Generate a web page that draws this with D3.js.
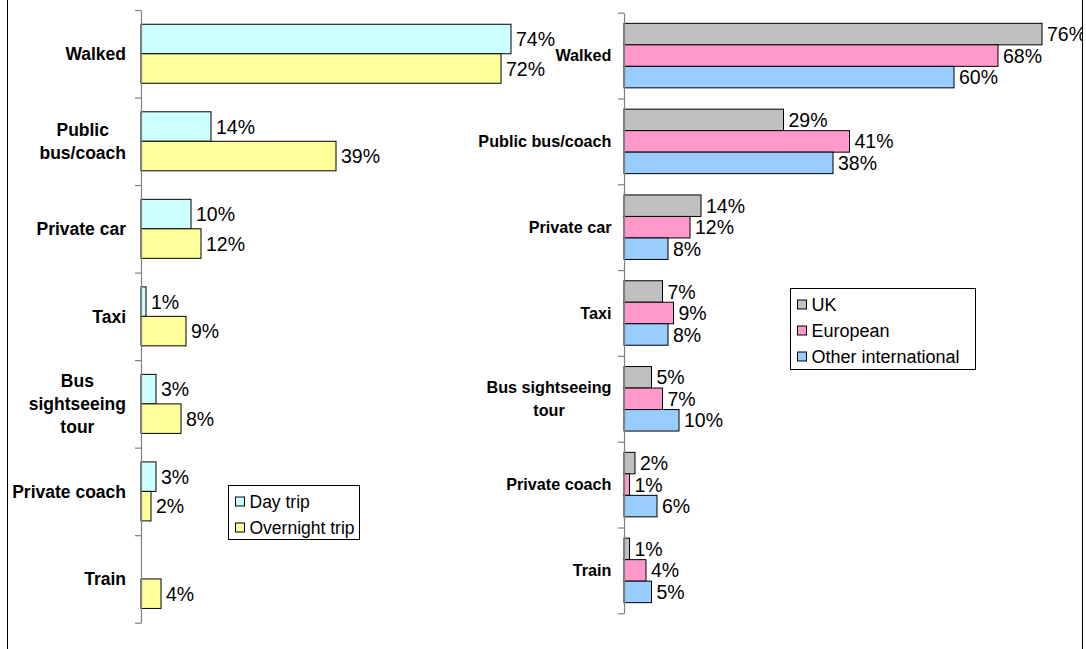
<!DOCTYPE html>
<html>
<head>
  <meta charset='utf-8'>
  <title>Transport used</title>
  <style type='text/css'>
body{
  margin:0;
  background:#fff;
}
svg text{
  font-family: 'Liberation Sans', Arial, sans-serif;
  fill:#000;
}
.cat{
  font-weight:bold;
}
  </style>
</head>
<body>
<div id='chart'></div>
<script src='https://d3js.org/d3.v7.min.js'></script>
<script type='text/javascript'>

// left chart data
var leftCategories = [['Walked'], ['Public', 'bus/coach'], ['Private car'], ['Taxi'],
                      ['Bus', 'sightseeing', 'tour'], ['Private coach'], ['Train']];
var leftSeries = ['Day trip', 'Overnight trip'];
var dayTrip = [74, 14, 10, 1, 3, 3, null];
var overnightTrip = [72, 39, 12, 9, 8, 2, 4];

// right chart data
var rightCategories = [['Walked'], ['Public bus/coach'], ['Private car'], ['Taxi'],
                       ['Bus sightseeing', 'tour'], ['Private coach'], ['Train']];
var rightSeries = ['UK', 'European', 'Other international'];
var ukVisitors = [76, 29, 14, 7, 5, 2, 1];
var europeanVisitors = [68, 41, 12, 9, 7, 1, 4];
var otherVisitors = [60, 38, 8, 8, 10, 6, 5];

var W = 1086, H = 649;
var svg = d3.select('#chart').append('svg')
    .attr('width', W)
    .attr('height', H);

svg.append('clipPath').attr('id', 'frame')
  .append('rect').attr('x', 7).attr('y', 0).attr('width', 1076).attr('height', H);

var root = svg.append('g').attr('clip-path', 'url(#frame)');

// draws one clustered horizontal bar chart
function barChart(opt){
  var g = root.append('g');
  var n = opt.categories.length;
  var y = d3.scaleBand().domain(d3.range(n)).range([opt.top, opt.bottom]);
  var x = d3.scaleLinear().domain([0, 10]).range([opt.left, opt.left + 10 * opt.pxPerPct]);
  var groupH = opt.barH * opt.series.length;
  var sub = d3.scaleBand().domain(d3.range(opt.series.length))
      .range([(y.bandwidth() - groupH) / 2, (y.bandwidth() + groupH) / 2]);

  // bars + value labels
  opt.series.forEach(function(s, si){
    var rows = opt.values[si].map(function(v, i){ return {v: v, i: i}; })
        .filter(function(d){ return d.v !== null; });
    g.selectAll('rect.s' + si).data(rows).enter().append('rect')
      .attr('class', 's' + si)
      .attr('x', x(0))
      .attr('y', function(d){ return y(d.i) + sub(si); })
      .attr('width', function(d){ return x(d.v) - x(0); })
      .attr('height', sub.bandwidth())
      .style('fill', opt.colors[si])
      .style('stroke', '#000')
      .style('stroke-width', 1);
    g.selectAll('text.v' + si).data(rows).enter().append('text')
      .attr('class', 'v' + si)
      .attr('x', function(d){ return x(d.v) + 5; })
      .attr('y', function(d){ return y(d.i) + sub(si) + sub.bandwidth() / 2; })
      .attr('dy', '0.36em')
      .style('font-size', opt.valueSize + 'px')
      .text(function(d){ return d.v + '%'; });
  });

  // category axis with ticks between the categories
  var edges = d3.scaleLinear().domain([0, n]).range([opt.top, opt.bottom]);
  var axis = g.append('g')
      .attr('transform', 'translate(' + x(0) + ',0)')
      .call(d3.axisLeft(edges).tickValues(d3.range(n + 1)).tickSize(6).tickSizeOuter(0).tickFormat(''));
  axis.selectAll('path, line').style('stroke', '#808080').style('stroke-width', 1.2);

  // category labels, wrapped lines centred inside a right aligned block
  opt.categories.forEach(function(lines, i){
    var t = g.append('text').attr('class', 'cat')
        .style('font-size', opt.catSize + 'px');
    var spans = lines.map(function(l){ return t.append('tspan').text(l); });
    var maxW = d3.max(spans, function(s){ return s.node().getComputedTextLength(); });
    var cx = opt.labelRight - maxW / 2;
    var cy = y(i) + y.bandwidth() / 2 - (lines.length - 1) * opt.lineH / 2;
    spans.forEach(function(s, k){
      s.attr('x', cx).attr('y', cy + k * opt.lineH).attr('dy', '0.36em')
       .attr('text-anchor', 'middle');
    });
  });

  // legend
  var lg = g.append('g');
  lg.append('rect')
    .attr('x', opt.legend.x).attr('y', opt.legend.y)
    .attr('width', opt.legend.w).attr('height', opt.legend.h)
    .style('fill', '#fff').style('stroke', '#000').style('stroke-width', 1);
  opt.series.forEach(function(s, si){
    var cy = opt.legend.y + opt.legend.first + si * 26;
    lg.append('rect')
      .attr('x', opt.legend.x + 7).attr('y', cy - 4.5)
      .attr('width', 9).attr('height', 9)
      .style('fill', opt.colors[si]).style('stroke', '#000').style('stroke-width', 1);
    lg.append('text')
      .attr('x', opt.legend.x + 21).attr('y', cy).attr('dy', '0.36em')
      .style('font-size', opt.legend.size + 'px')
      .text(s);
  });
}

barChart({
  categories: leftCategories,
  series: leftSeries,
  values: [dayTrip, overnightTrip],
  colors: ['#CCFFFF', '#FFFF99'],
  top: 10, bottom: 622.7, left: 141, pxPerPct: 5.0,
  barH: 29.5, valueSize: 19.5, catSize: 17.5, lineH: 23, labelRight: 126,
  legend: {x: 228.5, y: 485.5, w: 131, h: 54, first: 16, size: 17.5}
});

barChart({
  categories: rightCategories,
  series: rightSeries,
  values: [ukVisitors, europeanVisitors, otherVisitors],
  colors: ['#C0C0C0', '#FF99CC', '#99CCFF'],
  top: 12.7, bottom: 613.3, left: 624, pxPerPct: 5.5,
  barH: 21.5, valueSize: 19.5, catSize: 16.2, lineH: 23, labelRight: 611.5,
  legend: {x: 790.5, y: 288.5, w: 185, h: 81, first: 16, size: 18}
});

// outer frame lines
svg.append('line').attr('x1', 7.5).attr('x2', 7.5).attr('y1', 0).attr('y2', H)
  .style('stroke', '#000').style('stroke-width', 1);
svg.append('line').attr('x1', 1082.5).attr('x2', 1082.5).attr('y1', 0).attr('y2', H)
  .style('stroke', '#000').style('stroke-width', 1);

</script>
</body>
</html>
